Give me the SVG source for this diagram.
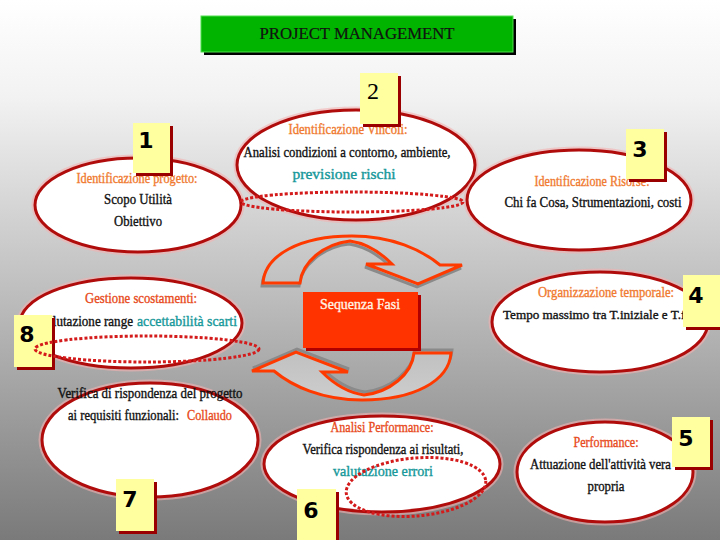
<svg xmlns="http://www.w3.org/2000/svg" xmlns:xlink="http://www.w3.org/1999/xlink" width="720" height="540" viewBox="0 0 720 540">
<defs>
<linearGradient id="bg" gradientUnits="userSpaceOnUse" x1="0" y1="0" x2="0" y2="540">
<stop offset="0" stop-color="#ffffff"/>
<stop offset="0.18" stop-color="#f2f2f2"/>
<stop offset="0.5" stop-color="#c4c4c4"/>
<stop offset="1" stop-color="#7a7a7a"/>
</linearGradient>
<path id="carrow" d="M263,283 C265,255 300,236 352,236 C392,236 422,250 440,265 L462,265 L418,284 L366,264 L392,264 C378,250 364,243 350,241 C324,244 302,262 300,283 Z"/>
<style>
.ell{fill:#ffffff;stroke:#b00c0c;stroke-width:3}
.halo{fill:none;stroke:#f4b0b0;stroke-width:7;opacity:0.6}
.t{font-family:"Liberation Serif","DejaVu Serif",serif;font-size:14px;fill:#111;stroke:#111;stroke-width:0.35}
.lab{fill:#f07a30;stroke:#f07a30}
.lab2{fill:#e84a20;stroke:#e84a20}
.teal{fill:#16989a;stroke:#16989a}
.box{fill:#ffffa0}
.bsh{fill:#9a0000}
.num{font-family:"DejaVu Sans","Liberation Sans",sans-serif;font-weight:bold;font-size:22px;fill:#000;text-anchor:middle}
.dot{fill:none;stroke:#d41a1a;stroke-width:3;stroke-dasharray:3 2}
.arr{fill:url(#bg);stroke:#ff3a00;stroke-width:3;stroke-linejoin:miter}
.arrsh{fill:none;stroke:#8a8a8a;stroke-width:3}
</style>
</defs>
<rect width="720" height="540" fill="url(#bg)"/>

<g id="title">
<rect x="204" y="19" width="312" height="36" fill="#000"/>
<rect x="201" y="16" width="312" height="36" fill="#00b400" stroke="#50e050" stroke-width="1"/>
<text x="357" y="39" class="t" style="font-size:16px;stroke-width:0.2" text-anchor="middle" textLength="195" lengthAdjust="spacingAndGlyphs">PROJECT MANAGEMENT</text>
</g>

<g id="center-arrows">
<use xlink:href="#carrow" class="arrsh" transform="translate(-1,3)"/>
<use xlink:href="#carrow" class="arr"/>
<use xlink:href="#carrow" class="arrsh" transform="rotate(180 357 318) translate(-1,3)"/>
<use xlink:href="#carrow" class="arr" transform="rotate(180 357 318)"/>
</g>

<g id="sequenza">
<rect x="306" y="295" width="115" height="56" fill="#b00000"/>
<rect x="303" y="292" width="115" height="56" fill="#ff3300"/>
<text x="360" y="309" class="t" style="fill:#fff4e4;stroke:#fff4e4" text-anchor="middle" textLength="80" lengthAdjust="spacingAndGlyphs">Sequenza Fasi</text>
</g>

<g id="node1">
<ellipse cx="138" cy="205" rx="103" ry="47" class="halo"/>
<ellipse cx="138" cy="205" rx="103" ry="47" class="ell"/>
<text x="137" y="183" class="t lab" text-anchor="middle" textLength="121" lengthAdjust="spacingAndGlyphs">Identificazione progetto:</text>
<text x="138" y="204" class="t" text-anchor="middle" textLength="68" lengthAdjust="spacingAndGlyphs">Scopo Utilità</text>
<text x="138" y="226" class="t" text-anchor="middle" textLength="48" lengthAdjust="spacingAndGlyphs">Obiettivo</text>
<rect x="136" y="126" width="37" height="50" class="bsh"/>
<rect x="133" y="123" width="37" height="50" class="box"/>
<text x="146" y="148" class="num">1</text>
</g>

<g id="node2">
<ellipse cx="356" cy="165" rx="119" ry="55" class="halo"/>
<ellipse cx="356" cy="165" rx="119" ry="55" class="ell"/>
<text x="348" y="134" class="t lab" text-anchor="middle" textLength="119" lengthAdjust="spacingAndGlyphs">Identificazione Vincoli:</text>
<text x="347" y="157" class="t" text-anchor="middle" textLength="207" lengthAdjust="spacingAndGlyphs">Analisi condizioni a contorno, ambiente,</text>
<text x="344" y="179" class="t teal" text-anchor="middle" textLength="103" lengthAdjust="spacingAndGlyphs">previsione rischi</text>
<rect x="363" y="76" width="38" height="51" class="bsh"/>
<rect x="360" y="73" width="38" height="51" class="box"/>
<text x="373" y="99" style="font-family:'Liberation Serif',serif;font-size:24px;fill:#000" text-anchor="middle">2</text>
</g>

<g id="node3">
<ellipse cx="579" cy="200" rx="112" ry="50" class="halo"/>
<ellipse cx="579" cy="200" rx="112" ry="50" class="ell"/>
<text x="592" y="186" class="t lab" text-anchor="middle" textLength="115" lengthAdjust="spacingAndGlyphs">Identificazione Risorse:</text>
<text x="593" y="207" class="t" text-anchor="middle" textLength="177" lengthAdjust="spacingAndGlyphs">Chi fa Cosa, Strumentazioni, costi</text>
<rect x="629" y="132" width="38" height="50" class="bsh"/>
<rect x="626" y="129" width="38" height="50" class="box"/>
<text x="640" y="157" class="num">3</text>
</g>

<g id="node4">
<ellipse cx="600" cy="322" rx="108" ry="50" class="halo"/>
<ellipse cx="600" cy="322" rx="108" ry="50" class="ell"/>
<text x="606" y="297" class="t lab" text-anchor="middle" textLength="136" lengthAdjust="spacingAndGlyphs">Organizzazione temporale:</text>
<text x="503" y="319" class="t" style="font-size:13px" textLength="208" lengthAdjust="spacingAndGlyphs">Tempo massimo tra T.iniziale e T.finale</text>
<rect x="686" y="278" width="38" height="52" class="bsh"/>
<rect x="683" y="275" width="38" height="52" class="box"/>
<text x="696" y="303" class="num">4</text>
</g>

<g id="node5">
<ellipse cx="605" cy="472" rx="88" ry="50" class="halo"/>
<ellipse cx="605" cy="472" rx="88" ry="50" class="ell"/>
<text x="606" y="447" class="t lab2" text-anchor="middle" textLength="65" lengthAdjust="spacingAndGlyphs">Performance:</text>
<text x="530" y="469" class="t" textLength="141" lengthAdjust="spacingAndGlyphs">Attuazione dell'attività vera</text>
<text x="606" y="491" class="t" text-anchor="middle" textLength="37" lengthAdjust="spacingAndGlyphs">propria</text>
<rect x="675" y="420" width="38" height="50" class="bsh"/>
<rect x="672" y="417" width="38" height="50" class="box"/>
<text x="686" y="446" class="num">5</text>
</g>

<g id="node6">
<ellipse cx="382" cy="464" rx="118" ry="48" class="halo"/>
<ellipse cx="382" cy="464" rx="118" ry="48" class="ell"/>
<text x="382" y="432" class="t lab2" text-anchor="middle" textLength="103" lengthAdjust="spacingAndGlyphs">Analisi Performance:</text>
<text x="383" y="454" class="t" text-anchor="middle" textLength="161" lengthAdjust="spacingAndGlyphs">Verifica rispondenza ai risultati,</text>
<text x="383" y="476" class="t teal" text-anchor="middle" textLength="100" lengthAdjust="spacingAndGlyphs">valutazione errori</text>
<rect x="300" y="492" width="39" height="52" class="bsh"/>
<rect x="297" y="489" width="39" height="52" class="box"/>
<text x="311" y="518" class="num">6</text>
</g>

<g id="node7">
<ellipse cx="150" cy="440" rx="108" ry="57" class="halo"/>
<ellipse cx="150" cy="440" rx="108" ry="57" class="ell"/>
<text x="150" y="398" class="t" text-anchor="middle" textLength="185" lengthAdjust="spacingAndGlyphs">Verifica di rispondenza del progetto</text>
<text x="68" y="420" class="t" textLength="111" lengthAdjust="spacingAndGlyphs">ai requisiti funzionali:</text>
<text x="187" y="420" class="t lab2" textLength="45" lengthAdjust="spacingAndGlyphs">Collaudo</text>
<rect x="119" y="482" width="38" height="52" class="bsh"/>
<rect x="116" y="479" width="38" height="52" class="box"/>
<text x="130" y="507" class="num">7</text>
</g>

<g id="node8">
<ellipse cx="131" cy="323" rx="111" ry="45" class="halo"/>
<ellipse cx="131" cy="323" rx="111" ry="45" class="ell"/>
<text x="141" y="303" class="t lab2" text-anchor="middle" textLength="112" lengthAdjust="spacingAndGlyphs">Gestione scostamenti:</text>
<text x="39" y="326" class="t" textLength="94" lengthAdjust="spacingAndGlyphs">Valutazione range</text>
<text x="137" y="326" class="t teal" textLength="100" lengthAdjust="spacingAndGlyphs">accettabilità scarti</text>
<rect x="17" y="318" width="38" height="52" class="bsh"/>
<rect x="14" y="315" width="38" height="52" class="box"/>
<text x="27" y="342" class="num">8</text>
</g>

<g id="connectors">
<ellipse cx="352" cy="202" rx="111" ry="10" class="dot"/>
<ellipse cx="147" cy="349" rx="112" ry="13" class="dot"/>
<ellipse cx="416" cy="487" rx="70" ry="29" class="dot" transform="rotate(-5 416 487)"/>
</g>
</svg>
